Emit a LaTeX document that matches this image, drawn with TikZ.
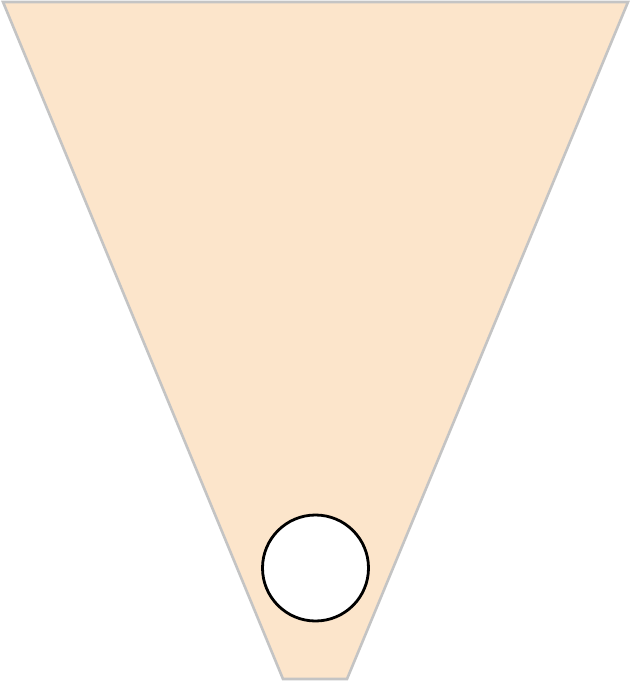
\documentclass[tikz,border=0pt]{standalone}
\usepackage{tikz}
\usetikzlibrary{positioning}
\definecolor{funnelfill}{HTML}{FCE5CB}
\definecolor{funneledge}{HTML}{C4C4C4}

\begin{document}
\begin{tikzpicture}[x=1pt, y=-1pt,
    funnel/.style={fill=funnelfill, draw=funneledge, line width=2.6pt, line join=miter},
    ball/.style={draw=black, fill=white, circle, line width=2.8pt, minimum size=106pt, inner sep=0pt}]
    \useasboundingbox (0,0) rectangle (631,682);
    % Funnel
    \draw[funnel] (3,2) -- (628,2) -- (347,679) -- (283,679) -- cycle;
    % Ball
    \node[ball] (ball) at (315.5,568) {};
\end{tikzpicture}
\end{document}
